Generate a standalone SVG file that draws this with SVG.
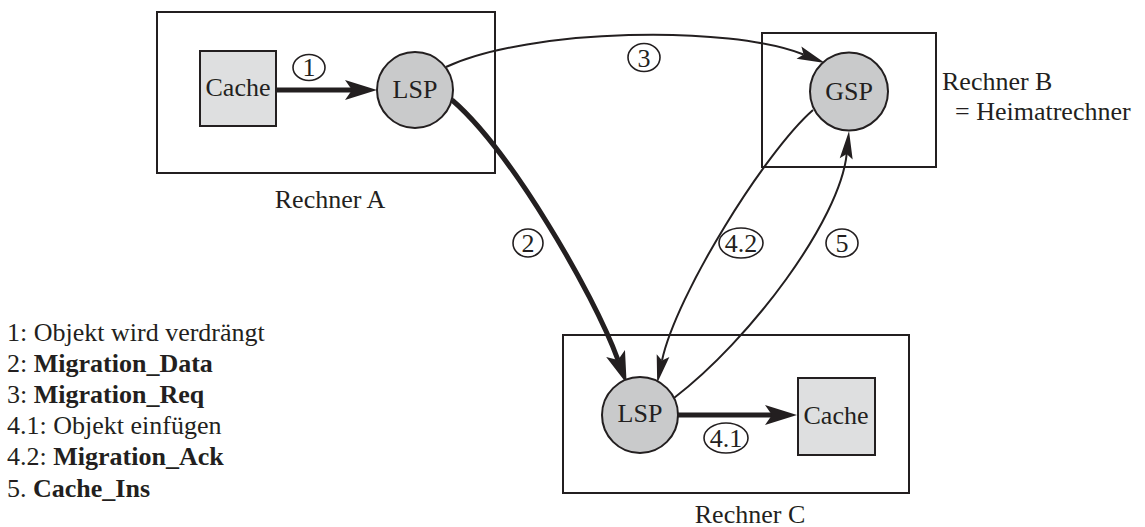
<svg xmlns="http://www.w3.org/2000/svg" width="1145" height="527" viewBox="0 0 1145 527">
  <style>
    text { font-family: "Liberation Serif", "Times New Roman", serif; font-size: 26px; fill: #231f20; }
    .mid { text-anchor: middle; }
    .b { font-weight: bold; }
    .host { fill: none; stroke: #231f20; stroke-width: 2; }
    .cache { fill: #dedfe0; stroke: #231f20; stroke-width: 2; }
    .proc { fill: #c9cacb; stroke: #231f20; stroke-width: 2; }
    .tag { fill: none; stroke: #231f20; stroke-width: 1.6; }
    .thick { fill: none; stroke: #231f20; stroke-width: 5; marker-end: url(#headThick); }
    .thin { fill: none; stroke: #231f20; stroke-width: 2; marker-end: url(#headThin); }
  </style>
  <defs>
    <!-- barbed arrowheads; the path ends at the notch, refX points there -->
    <marker id="headThick" markerUnits="userSpaceOnUse" markerWidth="32" markerHeight="20" viewBox="0 0 32 20" refX="7" refY="10" orient="auto" overflow="visible">
      <path d="M0,0 L32,10 L0,20 L7,10 z" fill="#231f20"/>
    </marker>
    <marker id="headThin" markerUnits="userSpaceOnUse" markerWidth="28" markerHeight="14" viewBox="0 0 28 14" refX="5" refY="7" orient="auto" overflow="visible">
      <path d="M0,0.5 L28,7 L0,13.5 L5,7 z" fill="#231f20"/>
    </marker>
  </defs>

  <!-- host frames -->
  <g id="rechnerA">
    <rect class="host" x="157" y="12" width="338" height="161"/>
    <text class="mid" x="330" y="208">Rechner A</text>
  </g>
  <g id="rechnerB">
    <rect class="host" x="762" y="33" width="174" height="134"/>
    <text x="942" y="90">Rechner B</text>
    <text x="955" y="120">= Heimatrechner</text>
  </g>
  <g id="rechnerC">
    <rect class="host" x="563" y="335" width="346" height="158"/>
    <text class="mid" x="750" y="523">Rechner C</text>
  </g>

  <!-- connectors -->
  <g id="connectors">
    <path id="e1" class="thick" d="M276,90 L352,90"/>
    <path id="e2" class="thick" d="M452,100 C510,150 593,292 618,360"/>
    <path id="e3" class="thin" d="M446,67 C530,28 730,25 803.6,54.5"/>
    <path id="e41" class="thick" d="M678,415 L772,415"/>
    <path id="e42" class="thin" d="M813,110 C765,152 676,295 662,360.5"/>
    <path id="e5" class="thin" d="M674,398 C750,340 840,220 846.7,153.9"/>
  </g>

  <!-- nodes -->
  <g id="cacheA">
    <rect class="cache" x="200" y="51" width="76" height="75"/>
    <text class="mid" x="238" y="96">Cache</text>
  </g>
  <g id="lspA">
    <circle class="proc" cx="415" cy="90" r="38"/>
    <text class="mid" x="415" y="98">LSP</text>
  </g>
  <g id="gsp">
    <circle class="proc" cx="849" cy="91.5" r="39"/>
    <text class="mid" x="849" y="100">GSP</text>
  </g>
  <g id="lspC">
    <circle class="proc" cx="640" cy="415" r="38"/>
    <text class="mid" x="640" y="422">LSP</text>
  </g>
  <g id="cacheC">
    <rect class="cache" x="798" y="378" width="77" height="77"/>
    <text class="mid" x="836" y="424">Cache</text>
  </g>

  <!-- step numbers -->
  <g id="labels">
    <g id="tag1"><ellipse class="tag" cx="309" cy="67.5" rx="16" ry="13"/><text class="mid" x="309" y="76">1</text></g>
    <g id="tag2"><ellipse class="tag" cx="528" cy="243" rx="15" ry="14"/><text class="mid" x="528" y="252">2</text></g>
    <g id="tag3"><ellipse class="tag" cx="644" cy="57.5" rx="16" ry="14"/><text class="mid" x="644" y="66.5">3</text></g>
    <g id="tag42"><ellipse class="tag" cx="741" cy="243" rx="22" ry="15"/><text class="mid" x="741" y="252">4.2</text></g>
    <g id="tag5"><ellipse class="tag" cx="842" cy="243" rx="16" ry="14"/><text class="mid" x="842" y="252">5</text></g>
    <g id="tag41"><ellipse class="tag" cx="726" cy="438" rx="22" ry="15"/><text class="mid" x="726" y="447">4.1</text></g>
  </g>

  <!-- legend -->
  <g id="legend">
    <text x="7" y="341">1: Objekt wird verdrängt</text>
    <text x="7" y="372">2: <tspan class="b">Migration_Data</tspan></text>
    <text x="7" y="403">3: <tspan class="b">Migration_Req</tspan></text>
    <text x="7" y="434">4.1: Objekt einfügen</text>
    <text x="7" y="465">4.2: <tspan class="b">Migration_Ack</tspan></text>
    <text x="7" y="497">5. <tspan class="b">Cache_Ins</tspan></text>
  </g>
</svg>
